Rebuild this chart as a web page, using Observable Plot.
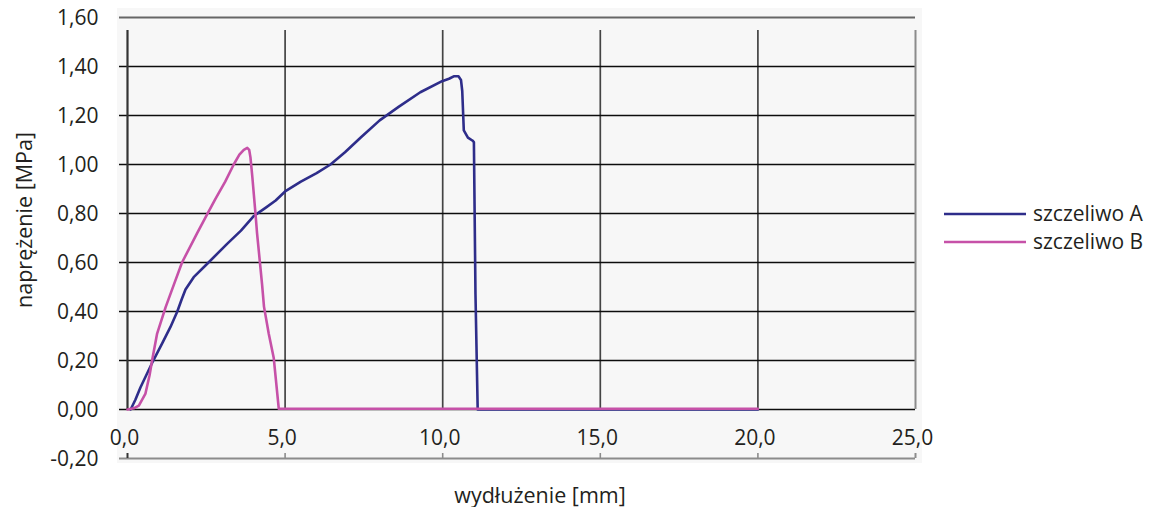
<!DOCTYPE html>
<html><head><meta charset="utf-8">
<script src="https://cdn.jsdelivr.net/npm/d3@7"></script>
<script src="https://cdn.jsdelivr.net/npm/@observablehq/plot@0.6"></script>
<style>body{margin:0;background:#fff}#chart{width:1151px;height:507px}</style>
</head><body><div id="chart"></div>
<script>
const seriesNames = ["szczeliwo A", "szczeliwo B"];
const seriesColors = ["#2e2d8a", "#c651a8"];

const aX = [0.1, 0.25, 0.41, 0.78, 1.1, 1.36, 1.58, 1.72, 1.84, 2.1, 2.53, 3.16, 3.6, 4.01, 4.4, 4.7, 5.0, 5.5, 6.0, 6.44, 6.9, 7.4, 8.0, 8.6, 9.29, 9.98, 10.2, 10.35, 10.5, 10.58, 10.62, 10.67, 10.8, 10.94, 10.99, 11.04, 11.11, 20.0];
const aY = [0.0, 0.04, 0.09, 0.19, 0.27, 0.336, 0.40, 0.45, 0.49, 0.54, 0.595, 0.676, 0.73, 0.79, 0.825, 0.853, 0.89, 0.93, 0.965, 1.00, 1.05, 1.11, 1.18, 1.235, 1.295, 1.34, 1.35, 1.36, 1.36, 1.345, 1.30, 1.139, 1.11, 1.098, 1.091, 0.47, 0.0, 0.0];

const bX = [0.0, 0.2, 0.36, 0.57, 0.7, 0.78, 0.94, 1.21, 1.5, 1.73, 2.21, 2.5, 2.79, 3.1, 3.37, 3.55, 3.69, 3.8, 3.86, 3.9, 3.96, 4.06, 4.11, 4.27, 4.33, 4.48, 4.64, 4.80, 20.0];
const bY = [0.0, 0.005, 0.016, 0.065, 0.14, 0.2, 0.31, 0.418, 0.52, 0.60, 0.72, 0.79, 0.86, 0.93, 1.00, 1.04, 1.06, 1.068, 1.06, 1.03, 0.95, 0.80, 0.72, 0.51, 0.42, 0.31, 0.21, 0.003, 0.003];

const xTicks = [0, 5, 10, 15, 20, 25];
const xTickLabels = ["0,0", "5,0", "10,0", "15,0", "20,0", "25,0"];
const yTicks = [-0.2, 0, 0.2, 0.4, 0.6, 0.8, 1.0, 1.2, 1.4, 1.6];
const yTickLabels = ["-0,20", "0,00", "0,20", "0,40", "0,60", "0,80", "1,00", "1,20", "1,40", "1,60"];
const xTitle = "wydłużenie [mm]";
const yTitle = "naprężenie [MPa]";

const dataA = aX.map((x, i) => ({x, y: aY[i]}));
const dataB = bX.map((x, i) => ({x, y: bY[i]}));
const innerGrid = yTicks.filter(v => v >= 0 && v < 1.6);
const vGrid = xTicks.filter(v => v > 0 && v < 25);

const font = "'Open Sans', sans-serif";
const txt = "#231f20";

const plot = Plot.plot({
  width: 1151, height: 507,
  marginLeft: 127, marginRight: 236, marginTop: 17, marginBottom: 49,
  x: {domain: [0, 25], axis: null},
  y: {domain: [-0.2, 1.6], axis: null},
  style: {fontFamily: font, fontSize: "21px", color: txt, background: "transparent", overflow: "visible"},
  marks: [
    Plot.ruleX(vGrid, {y1: 0, y2: 1.6, insetBottom: -13, stroke: "#444", strokeWidth: 1.7}),
    Plot.ruleX(vGrid, {y1: -0.2, y2: -0.2, insetTop: -5, stroke: "#8c8c8c", strokeWidth: 1.6}),
    Plot.ruleY(innerGrid, {x1: 0, x2: 25, insetLeft: -8, stroke: "#0d0d0d", strokeWidth: 1.6}),
    Plot.ruleY([1.6], {x1: 0, x2: 25, insetLeft: -8, stroke: "#666", strokeWidth: 2.2}),
    Plot.ruleY([-0.2], {x1: 0, x2: 25, insetLeft: -8, stroke: "#8c8c8c", strokeWidth: 2}),
    Plot.ruleX([25], {y1: 0, y2: 1.6, insetBottom: -13, stroke: "#8c8c8c", strokeWidth: 2}),
    Plot.ruleX([25], {y1: -0.2, y2: -0.2, insetTop: -5, stroke: "#8c8c8c", strokeWidth: 2}),
    Plot.ruleX([0], {y1: 0, y2: 1.6, insetBottom: -13, stroke: "#333", strokeWidth: 2.2}),
    Plot.ruleX([0], {y1: -0.2, y2: -0.2, insetTop: -5, stroke: "#333", strokeWidth: 2}),
    Plot.line(dataA, {x: "x", y: "y", stroke: seriesColors[0], strokeWidth: 2.6, strokeLinejoin: "round"}),
    Plot.line(dataB, {x: "x", y: "y", stroke: seriesColors[1], strokeWidth: 2.6, strokeLinejoin: "round"}),
    Plot.text(yTicks, {x: 0, y: d => d, text: (d, i) => yTickLabels[i], textAnchor: "end", dx: -29, dy: 1, fill: txt}),
    Plot.text(xTicks, {x: d => d, y: 0, text: (d, i) => xTickLabels[i], dx: -3, dy: 29, fill: txt})
  ]
});

const svg = d3.select(plot);
svg.insert("rect", ":first-child")
  .attr("x", 117).attr("y", 8).attr("width", 805).attr("height", 455)
  .attr("fill", "#f7f7f7");

// axis titles
svg.append("text").text(xTitle)
  .attr("x", 540).attr("y", 495).attr("text-anchor", "middle").attr("dy", "0.35em")
  .attr("fill", txt).style("font-size", "21.5px").style("font-family", font);
svg.append("text").text(yTitle)
  .attr("transform", "translate(24,220) rotate(-90)").attr("text-anchor", "middle").attr("dy", "0.35em")
  .attr("fill", txt).style("font-size", "21.5px").style("font-family", font);

// legend
const legY = [214, 242];
seriesNames.forEach((name, i) => {
  svg.append("line").attr("x1", 944).attr("x2", 1026).attr("y1", legY[i]).attr("y2", legY[i])
    .attr("stroke", seriesColors[i]).attr("stroke-width", 2.6);
  svg.append("text").text(name).attr("x", 1033).attr("y", legY[i]).attr("dy", "0.35em")
    .attr("text-anchor", "start")
    .attr("fill", txt).style("font-size", "21px").style("font-family", font);
});

document.getElementById("chart").append(plot);
</script>
</body></html>
